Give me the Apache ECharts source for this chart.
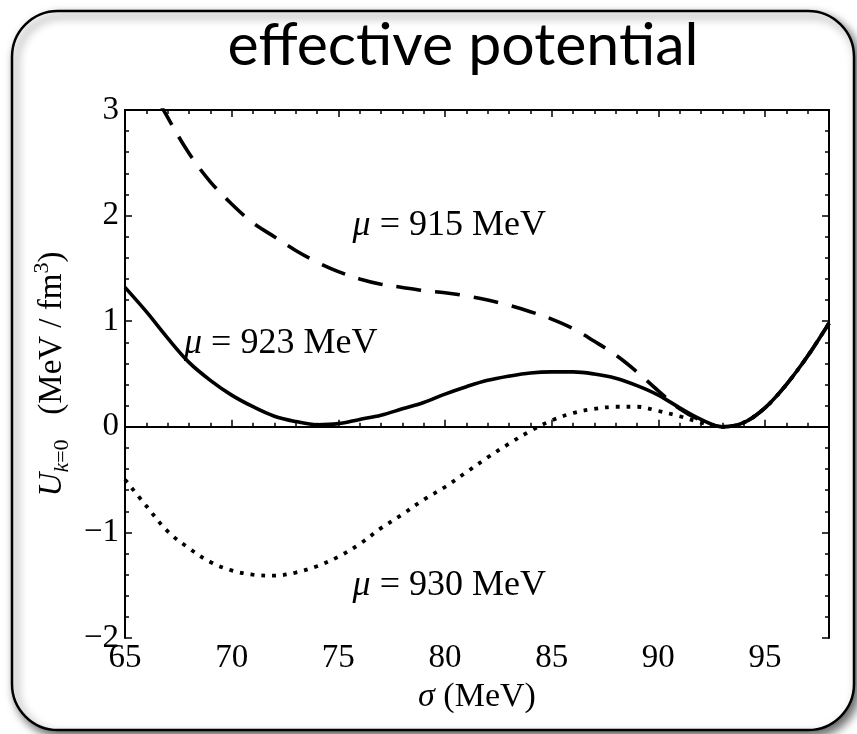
<!DOCTYPE html>
<html><head><meta charset="utf-8">
<script src="https://cdn.jsdelivr.net/npm/echarts@6/dist/echarts.min.js"></script>
<style>html,body{margin:0;padding:0;background:#fff}#c{width:857px;height:734px}</style>
</head><body><div id="c"></div>
<script>
// ---- data ----
const sigma = [65,66,67,68,69,70,71,72,73,74,75,76,77,78,79,80,81,82,83,84,85,86,87,88,89,90,91,92,93,94,95,96,97,98];
const u915 = [3.73,3.30,2.93,2.59,2.32,2.11,1.93,1.80,1.67,1.56,1.47,1.40,1.35,1.32,1.29,1.27,1.24,1.20,1.15,1.09,1.02,0.93,0.81,0.68,0.52,0.34,0.17,0.06,0.00,0.04,0.18,0.40,0.67,0.98];
const u923 = [1.32,1.09,0.84,0.61,0.44,0.30,0.19,0.10,0.05,0.02,0.03,0.07,0.11,0.17,0.23,0.31,0.38,0.44,0.48,0.51,0.52,0.52,0.50,0.46,0.39,0.30,0.18,0.07,0.00,0.04,0.18,0.40,0.67,0.98];
const u930 = [-0.50,-0.75,-0.99,-1.15,-1.28,-1.36,-1.40,-1.41,-1.38,-1.32,-1.23,-1.11,-0.96,-0.83,-0.69,-0.57,-0.43,-0.29,-0.16,-0.04,0.06,0.13,0.17,0.19,0.19,0.15,0.10,0.04,0.00,0.04,0.18,0.40,0.67,0.98];
const muValues = ['915','923','930'];
const labelAnchors = [[80.2,1.91],[72.3,0.79],[80.2,-1.50]];
const titleText = 'effective potential';
const xRange = [65, 98];
const yRange = [-2, 3];

const serif = 'Liberation Serif';
const pair = arr => sigma.map((s,i)=>[s,arr[i]]);
const fmt = v => (v < 0 ? '\u2212' + Math.abs(v) : String(v));

const chart = echarts.init(document.getElementById('c'), null, {renderer:'canvas'});

const lineAx = {show:true, lineStyle:{color:'#000', width:2}};
function xAx(pos, interval, len, labels){
  return {type:'value', position:pos, min:xRange[0], max:xRange[1], interval:interval,
    axisLine:lineAx, splitLine:{show:false},
    axisTick:{show:true, inside:true, length:len, lineStyle:{color:'#000', width:1.5}},
    axisLabel:{show:labels, showMaxLabel:false, color:'#000', fontFamily:serif, fontSize:33, margin:4, formatter:fmt}};
}
function yAx(pos, labels){
  return {type:'value', position:pos, min:yRange[0], max:yRange[1], interval:1,
    axisLine:lineAx, splitLine:{show:false},
    axisTick:{show:true, inside:true, length:7, lineStyle:{color:'#000', width:1.5}},
    minorTick:{show:true, splitNumber:5, length:4, lineStyle:{color:'#000', width:1.5}},
    axisLabel:{show:labels, color:'#000', fontFamily:serif, fontSize:33, margin:6, formatter:fmt}};
}
const xAxes = [xAx('bottom',5,7,true), xAx('bottom',1,4,false), xAx('top',5,7,false), xAx('top',1,4,false)];
xAxes[0].name = '{s|\u03c3}{n| (MeV)}';
xAxes[0].nameLocation = 'middle';
xAxes[0].nameGap = 40;
xAxes[0].nameTextStyle = {color:'#000', rich:{
  s:{fontFamily:serif, fontStyle:'italic', fontSize:34, color:'#000'},
  n:{fontFamily:serif, fontSize:34, color:'#000'}}};
const yAxes = [yAx('left',true), yAx('right',false)];
yAxes[0].name = '{u|U}{si|k}{sb|=0}{n|   (MeV / fm}{sp|3}{n|)}';
yAxes[0].nameLocation = 'middle';
yAxes[0].nameGap = 52;
yAxes[0].nameTextStyle = {color:'#000', rich:{
  u:{fontFamily:serif, fontStyle:'italic', fontSize:33, lineHeight:42, color:'#000'},
  n:{fontFamily:serif, fontSize:33, lineHeight:42, color:'#000'},
  si:{fontFamily:serif, fontStyle:'italic', fontSize:22, lineHeight:22, verticalAlign:'bottom', color:'#000'},
  sb:{fontFamily:serif, fontSize:22, lineHeight:22, verticalAlign:'bottom', color:'#000'},
  sp:{fontFamily:serif, fontSize:22, lineHeight:22, verticalAlign:'top', color:'#000'}}};

const option = {
  animation:false,
  backgroundColor:'#fff',
  grid:{left:125, top:110, right:28, bottom:96, containLabel:false},
  xAxis:xAxes,
  yAxis:yAxes,
  series:[
    {type:'line', name:'915', data:pair(u915), smooth:0.35, symbol:'none', clip:true,
     lineStyle:{color:'#000', width:3.6, type:[25,14]},
     markLine:{silent:true, symbol:'none', label:{show:false},
       lineStyle:{color:'#000', width:1, type:'solid'}, data:[{yAxis:0}]}},
    {type:'line', name:'923', data:pair(u923), smooth:0.35, symbol:'none', clip:true,
     lineStyle:{color:'#000', width:3.6, type:'solid'}},
    {type:'line', name:'930', data:pair(u930), smooth:0.35, symbol:'none', clip:true,
     lineStyle:{color:'#000', width:3.8, type:[3.8,7]}}
  ]
};
chart.setOption(option);

const graphics = [
  {type:'rect', id:'frame', z:-10, silent:true,
   shape:{x:12, y:11, width:842, height:719, r:46},
   style:{fill:'#fff', stroke:'#000', lineWidth:2.5, shadowBlur:10, shadowOffsetX:4, shadowOffsetY:5, shadowColor:'rgba(0,0,0,0.6)'}},
  {type:'text', id:'title', z:100, silent:true, x:463, y:46,
   style:{text:titleText, font:'59px Lato', fill:'#000', textAlign:'center', textVerticalAlign:'middle'}}
];
muValues.forEach((m,i)=>{
  const p = chart.convertToPixel({xAxisIndex:0, yAxisIndex:0}, labelAnchors[i]);
  graphics.push({type:'text', id:'lab'+i, z:100, silent:true, x:p[0], y:p[1],
    style:{text:'{m|\u03bc}{n| = ' + m + ' MeV}', textAlign:'center', textVerticalAlign:'middle', fill:'#000',
      rich:{m:{fontFamily:serif, fontStyle:'italic', fontSize:36, fill:'#000'},
            n:{fontFamily:serif, fontSize:36, fill:'#000'}}}});
});
chart.setOption({graphic:graphics});
</script></body></html>
